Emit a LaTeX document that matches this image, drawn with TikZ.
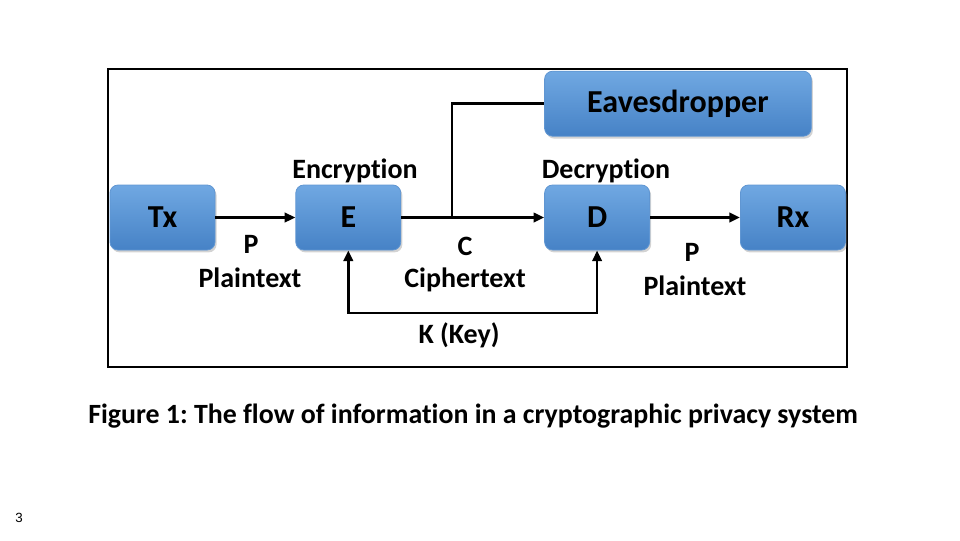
\documentclass[tikz,border=0pt]{standalone}
\usepackage{fontspec}
\setmainfont{Carlito}[Ligatures=NoCommon]
\newfontfamily\pagenumfont{Liberation Sans}
\usetikzlibrary{positioning,arrows.meta,shadows}
\definecolor{boxtop}{RGB}{112,168,226}
\definecolor{boxbot}{RGB}{70,130,198}
\definecolor{boxedge}{RGB}{96,150,210}
\tikzset{block/.style={rectangle, rounded corners=6pt, top color=boxtop,
    bottom color=boxbot, draw=boxedge, line width=0.6pt,
    minimum width=78.75pt, minimum height=48.75pt, inner sep=0pt,
    font=\fontsize{24}{28}\selectfont\bfseries,
    drop shadow={shadow xshift=1.2pt, shadow yshift=-1.8pt, opacity=0.35}},
  lbl/.style={font=\fontsize{21}{25}\selectfont\bfseries, anchor=base, inner sep=0pt}}
\tikzstyle{arrow}  = [line width=2pt, -{Triangle[length=8pt,width=7pt]}]
\tikzstyle{wire}   = [line width=2pt]
\tikzstyle{twoway} = [line width=2pt, {Triangle[length=8pt,width=7pt]}-{Triangle[length=8pt,width=7pt]}]
\frenchspacing

\begin{document}
\begin{tikzpicture}[x=0.75pt, y=-0.75pt]
    \useasboundingbox (0,0) rectangle (960,540);
    \draw[line width=2.2pt] (108,69) rectangle (847,367);

    \node[block] (Tx) at (162.5,217.5) {Tx};
    \node[block, right=60pt of Tx] (E) {E};
    \node[block, right=107.25pt of E] (D) {D};
    \node[block, right=67.5pt of D] (Rx) {Rx};
    \node[block, minimum width=200pt, anchor=south west] (Eve)
        at ([yshift=36pt]D.north west) {Eavesdropper};

    \node[lbl] (enc) at (355,178) {Encryption};
    \node[lbl] (dec) at (606,178) {Decryption};
    \node[lbl] (p1) at (251,253) {P};
    \node[lbl] (pt1) at (250,287) {Plaintext};
    \node[lbl] (c) at (465,255) {C};
    \node[lbl] (ct) at (465,287) {Ciphertext};
    \node[lbl] (p2) at (692,261) {P};
    \node[lbl] (pt2) at (695,295) {Plaintext};
    \node[lbl] (key) at (459,343) {K (Key)};

    \draw[arrow] (Tx) -- (E);
    \draw[arrow] (E) -- (D);
    \draw[arrow] (D) -- (Rx);

    \coordinate (tap) at (452,217.5);
    \draw[wire] (tap) |- (Eve.west);

    \coordinate (keybase) at (0,313);
    \draw[twoway] (E.south) -- (E.south |- keybase) -| (D.south);

    \node[lbl, font=\fontsize{20.9}{24}\selectfont\bfseries, anchor=base west]
        (caption) at (88,423) {Figure 1: The flow of information in a cryptographic privacy system};
    \node[anchor=base west, inner sep=0pt, font=\pagenumfont\fontsize{10}{12}\selectfont]
        (pagenum) at (15,522) {3};
\end{tikzpicture}
\end{document}
